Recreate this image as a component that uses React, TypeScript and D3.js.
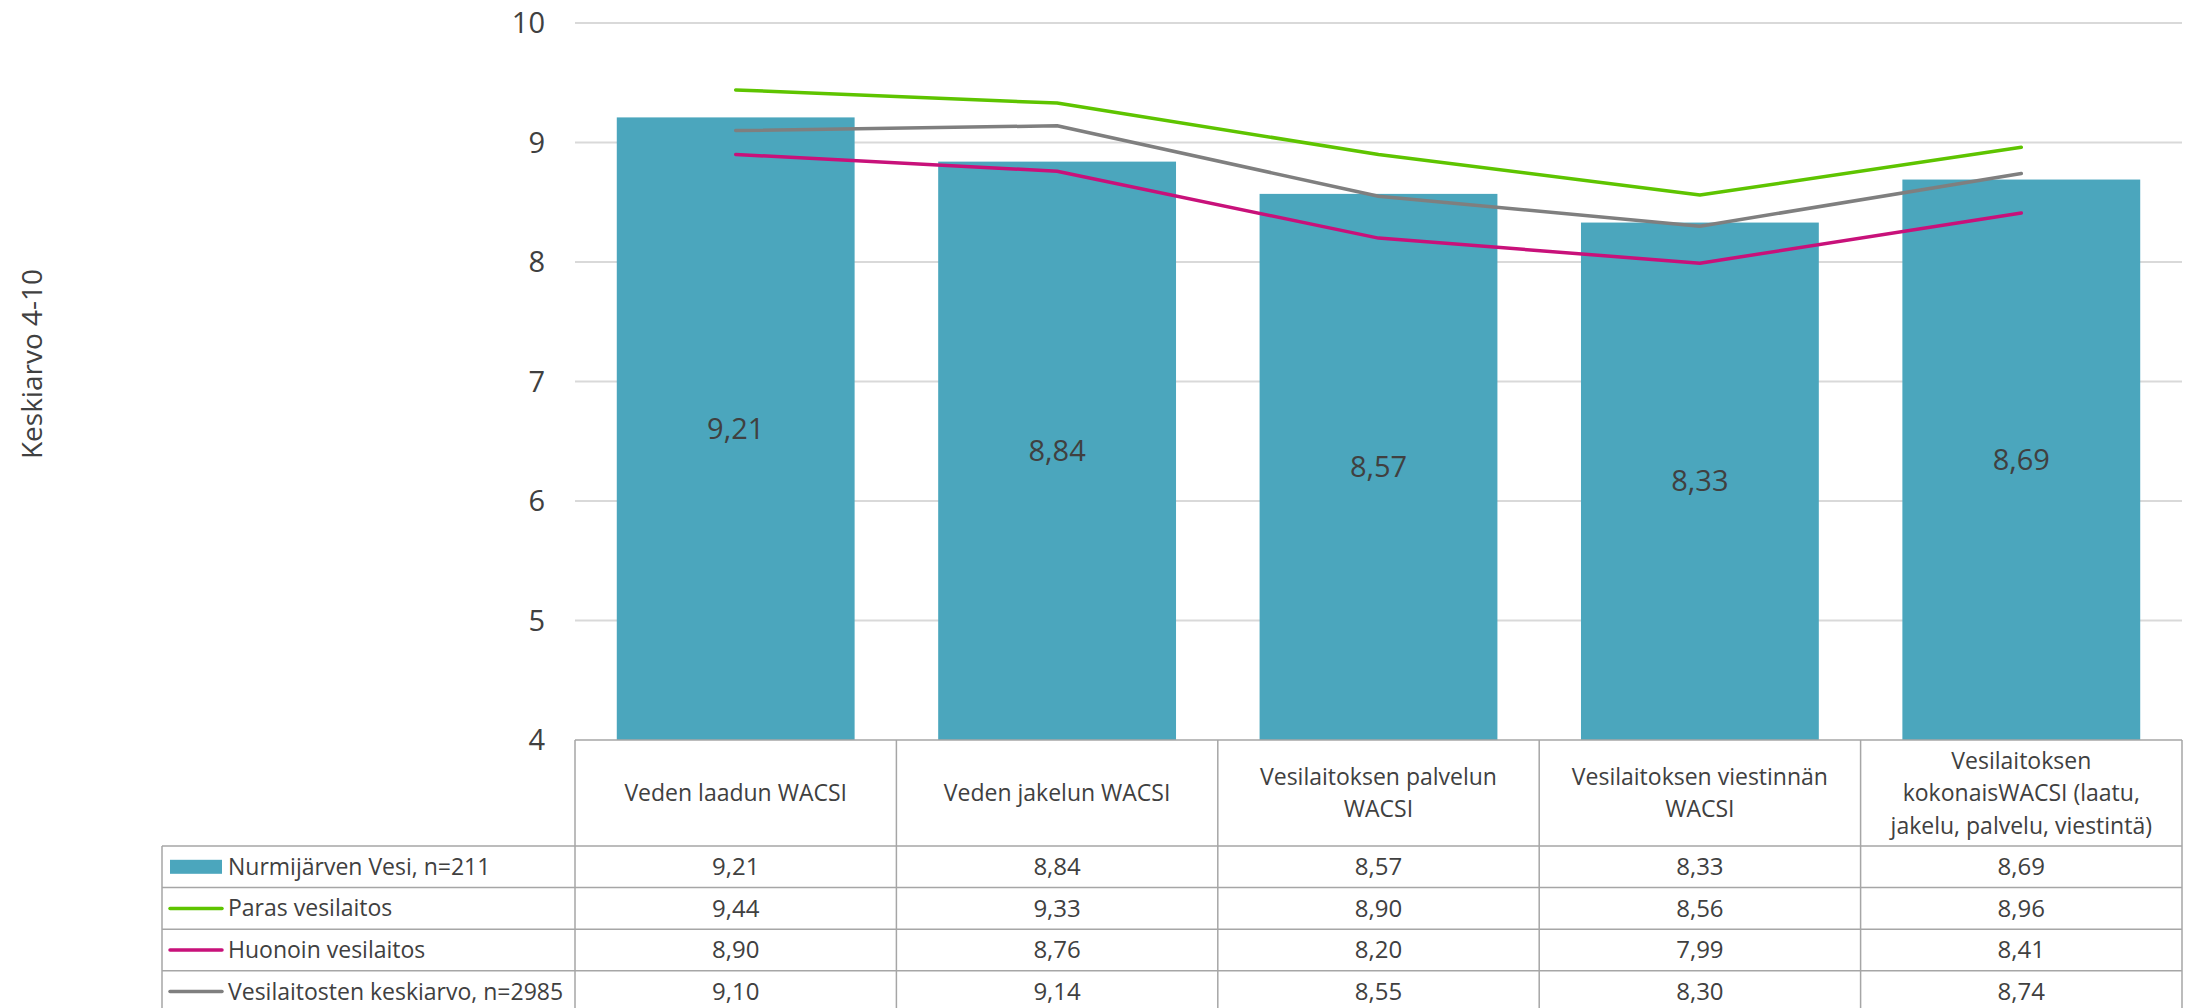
import React, { useEffect, useRef } from 'react';
import * as d3 from 'd3';

// Chart data
const categoryLines: string[][] = [
  ['Veden laadun WACSI'],
  ['Veden jakelun WACSI'],
  ['Vesilaitoksen palvelun', 'WACSI'],
  ['Vesilaitoksen viestinnän', 'WACSI'],
  ['Vesilaitoksen', 'kokonaisWACSI (laatu,', 'jakelu, palvelu, viestintä)'],
];
const nurmijarvi = [9.21, 8.84, 8.57, 8.33, 8.69];
const paras = [9.44, 9.33, 8.9, 8.56, 8.96];
const huonoin = [8.9, 8.76, 8.2, 7.99, 8.41];
const keskiarvo = [9.1, 9.14, 8.55, 8.3, 8.74];
const seriesNames = [
  'Nurmijärven Vesi, n=211',
  'Paras vesilaitos',
  'Huonoin vesilaitos',
  'Vesilaitosten keskiarvo, n=2985',
];
const yTicks = [4, 5, 6, 7, 8, 9, 10];
const axisTitle = 'Keskiarvo 4-10';

const FONT = "'Open Sans', 'Liberation Sans', sans-serif";
const TEXT = '#404040';
const BAR = '#4BA6BD';
const GREEN = '#5EC400';
const MAGENTA = '#C8117A';
const GREY = '#7F7F7F';

const App: React.FC = () => {
  const svgRef = useRef<SVGSVGElement>(null);
  const width = 2191;
  const height = 1008;

  useEffect(() => {
    if (!svgRef.current) return;
    const svg = d3.select(svgRef.current);
    svg.selectAll('*').remove();

    const plotLeft = 575;
    const plotRight = 2182;
    const plotTop = 23;
    const plotBottom = 740;
    const headerBottom = 846;
    const rowH = 41.6;
    const tableLeft = 162;

    const idx = categoryLines.map((_, i) => i);
    const x = d3.scaleBand<number>()
      .domain(idx)
      .range([plotLeft, plotRight])
      .paddingInner(0.26)
      .paddingOuter(0.13);
    const y = d3.scaleLinear().domain([4, 10]).range([plotBottom, plotTop]);
    const cx = (i: number) => (x(i) as number) + x.bandwidth() / 2;
    const fmt = (v: number) => d3.format('.2f')(v).replace('.', ',');

    // gridlines
    svg.append('g')
      .selectAll('line')
      .data(yTicks.filter(t => t > 4))
      .enter()
      .append('line')
      .attr('x1', plotLeft)
      .attr('x2', plotRight)
      .attr('y1', d => y(d))
      .attr('y2', d => y(d))
      .style('stroke', '#D9D9D9')
      .style('stroke-width', 2);

    // tick labels
    svg.append('g')
      .selectAll('text')
      .data(yTicks)
      .enter()
      .append('text')
      .attr('x', 545)
      .attr('y', d => y(d))
      .attr('dy', '0.35em')
      .style('text-anchor', 'end')
      .style('font-family', FONT)
      .style('font-size', '29px')
      .style('fill', TEXT)
      .text(d => String(d));

    // axis title
    svg.append('text')
      .attr('transform', `translate(32,364) rotate(-90)`)
      .attr('dy', '0.35em')
      .style('text-anchor', 'middle')
      .style('font-family', FONT)
      .style('font-size', '28px')
      .style('fill', TEXT)
      .text(axisTitle);

    // bars
    svg.append('g')
      .selectAll('rect')
      .data(nurmijarvi)
      .enter()
      .append('rect')
      .attr('x', (_, i) => x(i) as number)
      .attr('width', x.bandwidth())
      .attr('y', d => y(d))
      .attr('height', d => y(4) - y(d))
      .style('fill', BAR);

    // bar labels
    svg.append('g')
      .selectAll('text')
      .data(nurmijarvi)
      .enter()
      .append('text')
      .attr('x', (_, i) => cx(i))
      .attr('y', d => (y(d) + y(4)) / 2)
      .attr('dy', '0.35em')
      .style('text-anchor', 'middle')
      .style('font-family', FONT)
      .style('font-size', '29px')
      .style('fill', TEXT)
      .text(d => fmt(d));

    // lines
    const lineGen = d3.line<number>()
      .x((_, i) => cx(i))
      .y(d => y(d));
    const lineSeries: [number[], string][] = [
      [paras, GREEN],
      [keskiarvo, GREY],
      [huonoin, MAGENTA],
    ];
    lineSeries.forEach(([vals, color]) => {
      svg.append('path')
        .attr('d', lineGen(vals))
        .style('fill', 'none')
        .style('stroke', color)
        .style('stroke-width', 3.5)
        .style('stroke-linecap', 'round')
        .style('stroke-linejoin', 'round');
    });

    // data table
    const table = svg.append('g');
    const tableBottom = headerBottom + rowH * seriesNames.length;
    const border = (x1: number, y1: number, x2: number, y2: number) =>
      table.append('line')
        .attr('x1', x1).attr('y1', y1).attr('x2', x2).attr('y2', y2)
        .style('stroke', '#A6A6A6')
        .style('stroke-width', 1.5);

    border(plotLeft, plotBottom, plotRight, plotBottom);
    for (let r = 0; r <= seriesNames.length; r++) {
      border(tableLeft, headerBottom + r * rowH, plotRight, headerBottom + r * rowH);
    }
    border(tableLeft, headerBottom, tableLeft, tableBottom);
    const step = x.step();
    for (let c = 0; c <= categoryLines.length; c++) {
      border(plotLeft + c * step, plotBottom, plotLeft + c * step, tableBottom);
    }

    // header labels
    const headerMid = (plotBottom + headerBottom) / 2;
    const lineH = 32.5;
    categoryLines.forEach((lines, i) => {
      const t = table.append('text')
        .attr('x', plotLeft + (i + 0.5) * step)
        .style('text-anchor', 'middle')
        .style('font-family', FONT)
        .style('font-size', '23px')
        .style('fill', TEXT);
      lines.forEach((ln, j) => {
        t.append('tspan')
          .attr('x', plotLeft + (i + 0.5) * step)
          .attr('y', headerMid + (j - (lines.length - 1) / 2) * lineH)
          .attr('dy', '0.35em')
          .text(ln);
      });
    });

    // rows
    const rowValues = [nurmijarvi, paras, huonoin, keskiarvo];
    const rowColors = [BAR, GREEN, MAGENTA, GREY];
    seriesNames.forEach((name, r) => {
      const my = headerBottom + (r + 0.5) * rowH;
      if (r === 0) {
        table.append('rect')
          .attr('x', 170).attr('y', my - 7)
          .attr('width', 52).attr('height', 14)
          .style('fill', rowColors[r]);
      } else {
        table.append('line')
          .attr('x1', 170).attr('x2', 222)
          .attr('y1', my).attr('y2', my)
          .style('stroke', rowColors[r])
          .style('stroke-width', 3.5)
          .style('stroke-linecap', 'round');
      }
      table.append('text')
        .attr('x', 228)
        .attr('y', my)
        .attr('dy', '0.35em')
        .style('font-family', FONT)
        .style('font-size', '23px')
        .style('fill', TEXT)
        .text(name);
      rowValues[r].forEach((v, c) => {
        table.append('text')
          .attr('x', plotLeft + (c + 0.5) * step)
          .attr('y', my)
          .attr('dy', '0.35em')
          .style('text-anchor', 'middle')
          .style('font-family', FONT)
          .style('font-size', '24px')
          .style('fill', TEXT)
          .text(fmt(v));
      });
    });
  }, []);

  return (
    <svg
      ref={svgRef}
      width={width}
      height={height}
      style={{ position: 'absolute', left: 0, top: 0, background: '#fff' }}
    />
  );
};

export default App;
